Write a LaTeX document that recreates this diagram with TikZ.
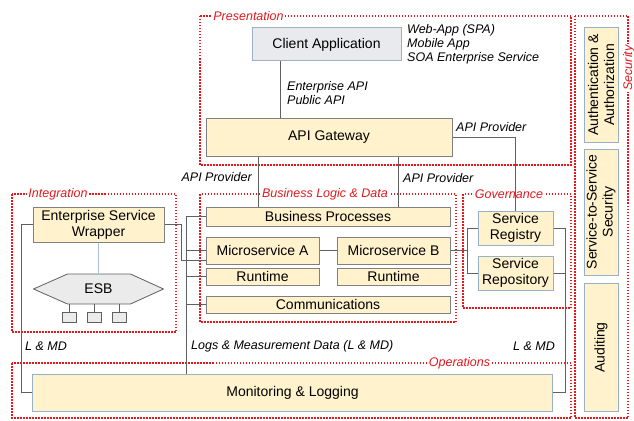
\documentclass[tikz,border=0pt]{standalone}
\usepackage{fontspec}
\setmainfont{Liberation Sans}
\usepackage{xcolor}
\usepackage{tikz}

\definecolor{paleyellow}{HTML}{FFF2CC}
\definecolor{boxgray}{HTML}{808080}
\definecolor{bluegray}{HTML}{9AB0C6}
\definecolor{clientfill}{HTML}{E8EAEE}
\definecolor{esbfill}{HTML}{EBEBEB}
\definecolor{wiregray}{HTML}{606060}
\definecolor{wireblue}{HTML}{A9C1D9}
\definecolor{groupred}{HTML}{E3191F}

\begin{document}
\begin{tikzpicture}[x=1pt,y=-1pt,
		box/.style={draw=boxgray,fill=paleyellow,line width=1pt,inner sep=0pt,align=center,font=\fontsize{14}{16}\selectfont},
		bluebox/.style={box,draw=bluegray},
		port/.style={draw=wiregray,fill=esbfill,line width=0.8pt,inner sep=0pt,minimum width=14,minimum height=10},
		group/.style={draw=groupred,line width=1.25pt,dash pattern=on 1.5pt off 1.5pt},
		grouplabel/.style={fill=white,text=groupred,inner sep=1.5pt,font=\fontsize{12.5}{14}\selectfont\itshape},
		note/.style={inner sep=0pt,align=left,font=\fontsize{12.5}{14}\selectfont\itshape},
		wire/.style={draw=wiregray,line width=0.9pt}]
			\useasboundingbox (0,0) rectangle (634,420);

			%% groups
			\draw[group] (200,16) rectangle (571,165);
			\draw[group] (12,194) rectangle (176,332);
			\draw[group] (200,194) rectangle (456,322);
			\draw[group] (463,194) rectangle (571,308);
			\draw[group] (12,363) rectangle (571,418);
			\draw[group] (575,16) rectangle (628,418);
			\node[grouplabel] (presentation) at (248.5,16) {Presentation};
			\node[grouplabel] (integration) at (58,194) {Integration};
			\node[grouplabel] (business) at (325,194) {Business Logic \& Data};
			\node[grouplabel] (governance) at (509,194) {Governance};
			\node[grouplabel] (operations) at (459.5,363) {Operations};
			\node[grouplabel,rotate=90] (security) at (629,68) {Security};

			%% boxes
			\node[bluebox,fill=clientfill,minimum width=149,minimum height=33] (client) at (326.5,44.5) {Client Application};
			\node[box,minimum width=246,minimum height=38] (gw) at (329,137) {API Gateway};
			\node[box,minimum width=131,minimum height=35] (esw) at (98.5,224.5) {Enterprise Service\\Wrapper};
			\node[box,minimum width=244,minimum height=19] (bp) at (328,216.5) {Business Processes};
			\node[box,minimum width=113,minimum height=27] (msa) at (262.5,250.5) {Microservice A};
			\node[box,minimum width=113,minimum height=27] (msb) at (393.5,250.5) {Microservice B};
			\node[box,minimum width=113,minimum height=17] (rta) at (262.5,276.5) {Runtime};
			\node[box,minimum width=113,minimum height=17] (rtb) at (393.5,276.5) {Runtime};
			\node[box,minimum width=244,minimum height=17] (comm) at (328,304.5) {Communications};
			\node[bluebox,minimum width=75,minimum height=34] (reg) at (515.5,228) {Service\\Registry};
			\node[bluebox,minimum width=75,minimum height=34] (repo) at (515.5,273) {Service\\Repository};
			\node[bluebox,minimum width=520,minimum height=37] (mon) at (292.5,392.5) {Monitoring \& Logging};
			\node[bluebox,rotate=90,minimum width=114,minimum height=34] (auth) at (601,85) {Authentication \&\\Authorization};
			\node[bluebox,rotate=90,minimum width=126,minimum height=34] (s2s) at (601,212) {Service-to-Service\\Security};
			\node[bluebox,rotate=90,minimum width=128,minimum height=34] (audit) at (601,347.5) {Auditing};

			%% esb
			\coordinate (esbc) at (98.5,289);
			\draw[draw=wiregray,fill=esbfill,line width=0.8pt] (esbc) ++(-65,0) -- ++(34,-15) -- ++(63,0) -- ++(33,15) -- ++(-33,15) -- ++(-63,0) -- cycle;
			\node[inner sep=0pt,minimum width=130,minimum height=30,font=\fontsize{14}{16}\selectfont] (esb) at (esbc) {ESB};
			\node[port] (port1) at (69,317) {};
			\node[port] (port2) at (94.5,317) {};
			\node[port] (port3) at (119.5,317) {};

			%% notes
			\node[note,anchor=west] (clients) at (407,44) {Web-App (SPA)\\Mobile App\\SOA Enterprise Service};
			\node[note,anchor=west] (apis) at (287,93) {Enterprise API\\Public API};
			\node[note,anchor=west] (prov1) at (456,127) {API Provider};
			\node[note,anchor=east] (prov2) at (252,177) {API Provider};
			\node[note,anchor=west] (prov3) at (403,178) {API Provider};
			\node[note,anchor=west] (lmdl) at (25,346) {L \& MD};
			\node[note,anchor=west] (logs) at (191,346) {Logs \& Measurement Data (L \& MD)};
			\node[note,anchor=east] (lmdr) at (555,346) {L \& MD};

			%% lines
			\draw[wire] ([xshift=-46.5pt]client.south) -- ([xshift=-46.5pt]client.south |- gw.north);
			\draw[wire] (gw.east) -| (reg.north);
			\draw[wire] ([xshift=-71pt]gw.south) -- ([xshift=-71pt]gw.south |- bp.north);
			\draw[wire] ([xshift=69pt]gw.south) -- ([xshift=69pt]gw.south |- bp.north);
			\draw[wire,draw=wireblue] (esw.south) -- (esb.north);
			\draw[wire] (port1) -- (port1 |- esb.south);
			\draw[wire] (port2) -- (port2 |- esb.south);
			\draw[wire] (port3) -- (port3 |- esb.south);
			\draw[wire] (esw.east) -- ++(17,0) |- ([yshift=-10pt]msa.west);
			\coordinate (bus) at ([xshift=-19pt]bp.west);
			\draw[wire] (bp.west) -- (bus) -- (bus |- mon.north);
			\draw[wire] (msa.west) -- (msa.west -| bus);
			\draw[wire] (rta.west) -- (rta.west -| bus);
			\draw[wire] (comm.west) -- (comm.west -| bus);
			\draw[wire] (msa.east) -- (msb.west);
			\coordinate (fork) at ([xshift=-10pt]reg.west);
			\draw[wire] (reg.west) -- (fork) |- (repo.west);
			\draw[wire] (msb.east) -- (msb.east -| fork);
			\draw[wire] (reg.east) -- ++(12,0) coordinate (lmdbus) |- (mon.east);
			\draw[wire] (repo.east) -- (repo.east -| lmdbus);
			\draw[wire] (esw.west) -- ++(-11,0) |- (mon.west);
		\end{tikzpicture}
\end{document}
